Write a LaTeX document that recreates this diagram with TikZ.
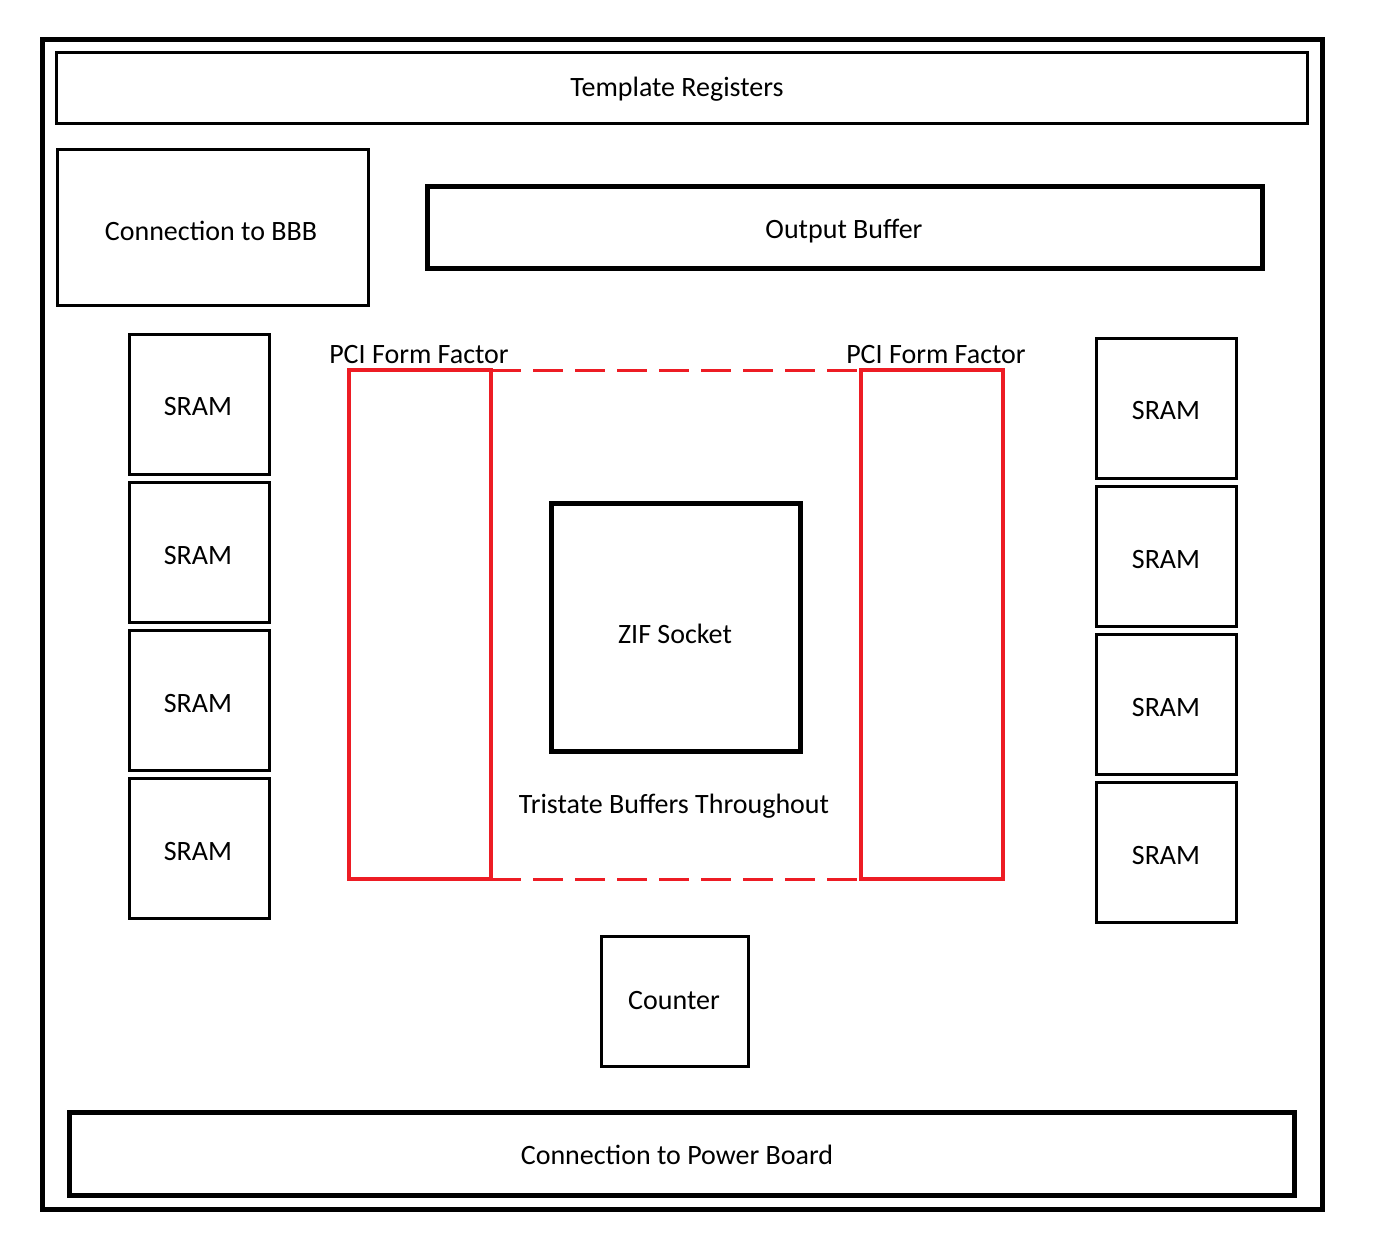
\documentclass[tikz,border=0pt]{standalone}
\usepackage{fontspec}
\setmainfont{Carlito}
\definecolor{pcired}{HTML}{ED1C24}
\begin{document}
\begin{tikzpicture}[x=1pt,y=-1pt,
  box/.style={draw=black,line width=3pt},
  thickbox/.style={draw=black,line width=5pt},
  pcibox/.style={draw=pcired,line width=4pt},
  dashline/.style={draw=pcired,line width=3pt,dash pattern=on 30pt off 12pt},
  lbl/.style={font=\fontsize{28}{32}\selectfont,inner sep=0pt}]
\useasboundingbox (0,0) rectangle (1376,1254);
\fill[white] (0,0) rectangle (1376,1254);
% outer border
\draw[thickbox] (42,39) rectangle (1322,1209);
% top boxes
\draw[box] (56,52) rectangle (1307,123);
\node[lbl] (tr) at (677,89) {Template Registers};
\draw[box] (57,149) rectangle (368,305);
\node[lbl] (bbb) at (211,231) {Connection to BBB};
\draw[thickbox] (427,186) rectangle (1262,268);
\node[lbl] (ob) at (844,231) {Output Buffer};
% SRAMs left
\foreach \y/\n in {334/1,482/2,630/3,778/4}{
  \draw[box] (129,\y) rectangle (269,\y+140);
  \node[lbl] (sl\n) at (198,\y+73) {SRAM};
}
% SRAMs right
\foreach \y/\n in {338/1,486/2,634/3,782/4}{
  \draw[box] (1096,\y) rectangle (1236,\y+140);
  \node[lbl] (sr\n) at (1166,\y+73) {SRAM};
}
% PCI boxes
\coordinate (dtl) at (491,370);
\coordinate (dtr) at (861,370);
\coordinate (dbl) at (491,879);
\coordinate (dbr) at (861,879);
\draw[dashline] (dtl) -- (dtr);
\draw[dashline] (dbl) -- (dbr);
\draw[pcibox] (349,370) rectangle (491,879);
\draw[pcibox] (861,370) rectangle (1003,879);
\node[lbl] (pcil) at (419,355) {PCI Form Factor};
\node[lbl] (pcir) at (936,355) {PCI Form Factor};
% ZIF
\draw[thickbox] (551,503) rectangle (800,751);
\node[lbl] (zif) at (675,634) {ZIF Socket};
\node[lbl] (tri) at (674,806) {Tristate Buffers Throughout};
% counter
\draw[box] (601,936) rectangle (748,1066);
\node[lbl] (cnt) at (674,1001) {Counter};
% power board
\draw[thickbox] (69,1112) rectangle (1294,1195);
\node[lbl] (pb) at (677,1155) {Connection to Power Board};
\end{tikzpicture}
\end{document}
